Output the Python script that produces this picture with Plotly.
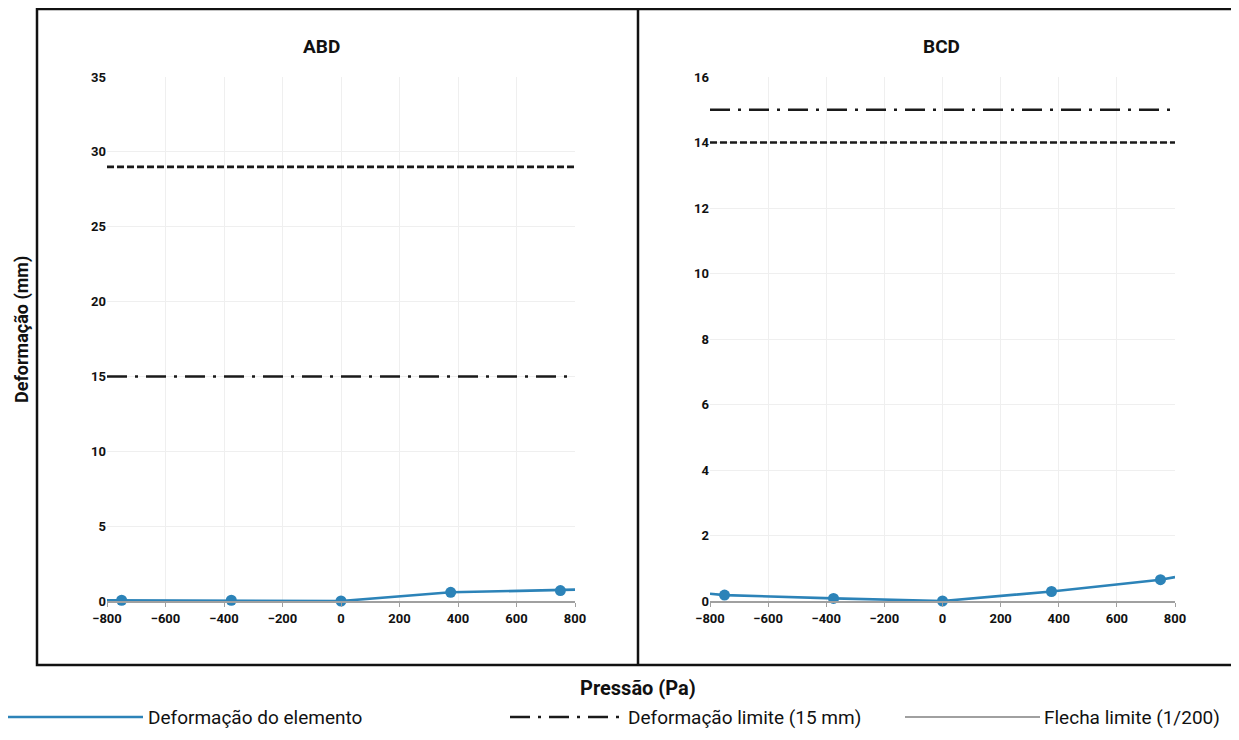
import plotly.graph_objects as go

# page body has an 8px margin, so the figure is sized to fit the 1239x740 window
W, H = 1223, 724
OFF = 8

# ---------------- data ----------------
pressure_pts = [-750, -375, 0, 375, 750]
line_x = [-800, -750, -375, 0, 375, 750, 800]

abd_def_pts = [0.05, 0.05, 0.0, 0.58, 0.70]
abd_def_line = [0.05, 0.05, 0.05, 0.0, 0.58, 0.70, 0.76]
bcd_def_pts = [0.18, 0.08, 0.0, 0.29, 0.65]
bcd_def_line = [0.22, 0.18, 0.08, 0.0, 0.29, 0.65, 0.73]

limit_x = [-800, 800]
abd_limit_15 = [15, 15]
bcd_limit_15 = [15, 15]
abd_flecha = [29.0, 29.0]
bcd_flecha = [14.0, 14.0]

panel_titles = ["ABD", "BCD"]
abd_yticks = [0, 5, 10, 15, 20, 25, 30, 35]
bcd_yticks = [0, 2, 4, 6, 8, 10, 12, 14, 16]
x_ticks = [-800, -600, -400, -200, 0, 200, 400, 600, 800]

legend_labels = ["Deformação do elemento", "Deformação limite (15 mm)", "Flecha limite (1/200)"]
x_title = "Pressão (Pa)"
y_title = "Deformação (mm)"

# ---------------- styling ----------------
FONT = "Roboto, Liberation Sans, Arial, sans-serif"
BLUE = "#2c83b8"
GREY = "#a0a0a0"
DASHDOT = "20px,8px,3px,8px"


def px(x):
    return max(0.0, (x - OFF) / W)


def py(y):
    return 1 - (y - OFF) / H


fig = go.Figure()

panels = [
    ("x", "y", abd_def_line, abd_def_pts, abd_limit_15, abd_flecha),
    ("x2", "y2", bcd_def_line, bcd_def_pts, bcd_limit_15, bcd_flecha),
]
for xa, ya, dline, dpts, lim15, fl in panels:
    fig.add_trace(go.Scatter(x=limit_x, y=fl, mode="lines", xaxis=xa, yaxis=ya,
                             line=dict(color="#1a1a1a", width=2.6, dash="7px,3px"),
                             showlegend=False, hoverinfo="skip"))
    fig.add_trace(go.Scatter(x=limit_x, y=lim15, mode="lines", xaxis=xa, yaxis=ya,
                             line=dict(color="#1a1a1a", width=2.6, dash=DASHDOT),
                             showlegend=False, hoverinfo="skip"))
    fig.add_trace(go.Scatter(x=line_x, y=dline, mode="lines", xaxis=xa, yaxis=ya,
                             line=dict(color=BLUE, width=2.6), cliponaxis=False,
                             showlegend=False))
    fig.add_trace(go.Scatter(x=pressure_pts, y=dpts, mode="markers", xaxis=xa, yaxis=ya,
                             marker=dict(color=BLUE, size=11), cliponaxis=False,
                             showlegend=False))

ydom = [py(601), py(77)]
axis_common = dict(showgrid=True, gridcolor="#efefef", gridwidth=1, zeroline=False,
                   automargin=False,
                   tickfont=dict(family=FONT, size=13, color="#111", weight="bold"))
fig.update_layout(
    xaxis=dict(domain=[px(107), px(575)], range=[-800, 800], tickvals=x_ticks,
               showline=True, linecolor=GREY, linewidth=2, ticks="outside",
               ticklen=4, tickcolor=GREY, anchor="y", **axis_common),
    yaxis=dict(domain=ydom, range=[0, 35], tickvals=abd_yticks, anchor="x",
               ticks="", showline=False, **axis_common),
    xaxis2=dict(domain=[px(710), px(1175)], range=[-800, 800], tickvals=x_ticks,
                showline=True, linecolor=GREY, linewidth=2, ticks="outside",
                ticklen=4, tickcolor=GREY, anchor="y2", **axis_common),
    yaxis2=dict(domain=ydom, range=[0, 16], tickvals=bcd_yticks, anchor="x2",
                ticks="", showline=False, **axis_common),
)

shapes = [
    dict(type="rect", xref="paper", yref="paper", x0=px(37), x1=px(1236),
         y0=py(665), y1=py(9), line=dict(color="#111", width=2.5)),
    dict(type="line", xref="paper", yref="paper", x0=px(638), x1=px(638),
         y0=py(665), y1=py(9), line=dict(color="#111", width=2.5)),
    # legend symbols
    dict(type="line", xref="paper", yref="paper", x0=px(8), x1=px(143),
         y0=py(717), y1=py(717), line=dict(color=BLUE, width=2.6)),
    dict(type="line", xref="paper", yref="paper", x0=px(510), x1=px(623),
         y0=py(717), y1=py(717), line=dict(color="#1a1a1a", width=2.6, dash=DASHDOT)),
    dict(type="line", xref="paper", yref="paper", x0=px(905), x1=px(1040),
         y0=py(717), y1=py(717), line=dict(color=GREY, width=2)),
]

title_font = dict(family=FONT, size=19, color="#111", weight="bold")
legend_font = dict(family=FONT, size=19, color="#111")
annotations = [
    dict(text=panel_titles[0], x=px(321), y=py(46), font=title_font),
    dict(text=panel_titles[1], x=px(941), y=py(46), font=title_font),
    dict(text=y_title, x=px(22), y=py(330), textangle=-90,
         font=dict(family=FONT, size=18, color="#111", weight="bold")),
    dict(text=x_title, x=px(638), y=py(688),
         font=dict(family=FONT, size=20, color="#111", weight="bold")),
    dict(text=legend_labels[0], x=px(146), y=py(717), xanchor="left", font=legend_font),
    dict(text=legend_labels[1], x=px(626), y=py(717), xanchor="left", font=legend_font),
    dict(text=legend_labels[2], x=px(1042), y=py(717), xanchor="left", font=legend_font),
]
for a in annotations:
    a.setdefault("xanchor", "center")
    a.update(xref="paper", yref="paper", showarrow=False, yanchor="middle")

fig.update_layout(
    width=W, height=H,
    margin=dict(l=0, r=0, t=0, b=0, autoexpand=False),
    paper_bgcolor="white", plot_bgcolor="white",
    showlegend=False,
    shapes=shapes, annotations=annotations,
    font=dict(family=FONT, color="#111"),
)

fig.write_html("out.html")
